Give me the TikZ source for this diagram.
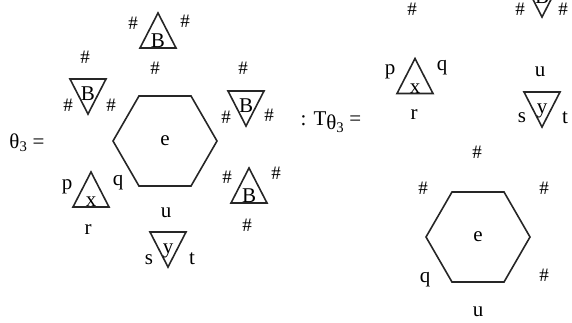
\documentclass[tikz,border=0pt]{standalone}
\usepackage{fontspec}
\setmainfont{Liberation Serif}
\usetikzlibrary{shapes.geometric}

\begin{document}
\begin{tikzpicture}[
  x=1pt, y=-1pt,
  lbl/.style={inner sep=0pt, font=\fontsize{21}{24}\selectfont},
  hsh/.style={inner sep=0pt, font=\fontsize{19}{22}\selectfont},
  hexa/.style={regular polygon, regular polygon sides=6, draw=black!85, line width=1.6pt, minimum size=104pt, inner sep=0pt, font=\fontsize{21}{24}\selectfont},
  tri/.style={draw=black!85, line width=1.6pt},
  pics/uptri/.style={code={
    \draw[tri] (0,-17.5) -- (18,17.5) -- (-18,17.5) -- cycle;
    \node[lbl, anchor=base] (-l) at (0,17) {#1};}},
  pics/dntri/.style={code={
    \draw[tri] (-18,-17.5) -- (18,-17.5) -- (0,17.5) -- cycle;
    \node[lbl, anchor=base] (-l) at (0,3.5) {#1};}}
]
\clip (0,0) rectangle (572,322);

% Left: theta_3
\node[lbl] (thL) at (27,143) {θ\textsubscript{3} =};
\node[hexa] (hexL) at (165,141) {e};

\pic (tB) at (158,30.5) {uptri=B};
\node[hsh] (tB1) at (133,23) {\#};
\node[hsh] (tB2) at (185,21) {\#};
\node[hsh] (tB3) at (155,68) {\#};

\pic (lB) at (88,96.5) {dntri=B};
\node[hsh] (lB1) at (85,57) {\#};
\node[hsh] (lB2) at (68,105) {\#};
\node[hsh] (lB3) at (111,105) {\#};

\pic (ruB) at (246,108.5) {dntri=B};
\node[hsh] (ruB1) at (243,68) {\#};
\node[hsh] (ruB2) at (226,117) {\#};
\node[hsh] (ruB3) at (269,115) {\#};

\pic (rlB) at (249,185.5) {uptri=B};
\node[hsh] (rlB1) at (227,177) {\#};
\node[hsh] (rlB2) at (276,173) {\#};
\node[hsh] (rlB3) at (247,225) {\#};

\pic (xL) at (91,189.5) {uptri=x};
\node[lbl] (pL) at (67,187) {p};
\node[lbl] (qL) at (118,183) {q};
\node[lbl] (rL) at (88,230) {r};

\node[lbl] (uL) at (166,213) {u};
\pic (yL) at (168,249.5) {dntri=y};
\node[lbl] (sL) at (149,260) {s};
\node[lbl] (tL) at (192,259) {t};

% Right: T_theta_3
\node[lbl] (thR) at (331,122) {: T\raisebox{-0.45ex}{θ\textsubscript{3}} =};

\node[hsh] (topR) at (412,9) {\#};
\pic (cB) at (542,-0.5) {dntri=B};
\node[hsh] (cB1) at (520,9) {\#};
\node[hsh] (cB2) at (563,9) {\#};

\pic (xR) at (415,76) {uptri=x};
\node[lbl] (pR) at (390,72) {p};
\node[lbl] (qR) at (442,68) {q};
\node[lbl] (rR) at (414,115) {r};

\node[lbl] (uR) at (540,72) {u};
\pic (yR) at (542,109.5) {dntri=y};
\node[lbl] (sR) at (522,118) {s};
\node[lbl] (tR) at (565,118) {t};

\node[hsh] (hR0) at (477,152) {\#};
\node[hexa] (hexR) at (478,237) {e};
\node[hsh] (hR1) at (423,188) {\#};
\node[hsh] (hR2) at (544,188) {\#};
\node[hsh] (hR3) at (544,275) {\#};
\node[lbl] (qR2) at (425,280) {q};
\node[lbl] (uR2) at (478,312) {u};

\end{tikzpicture}
\end{document}
